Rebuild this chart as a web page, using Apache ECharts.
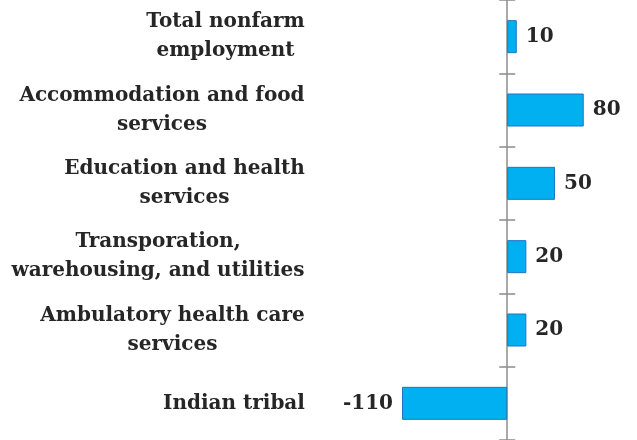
<!DOCTYPE html>
<html><head><meta charset="utf-8">
<script src="https://cdn.jsdelivr.net/npm/echarts@6/dist/echarts.min.js"></script>
<style>html,body{margin:0;padding:0;background:#fff}#c{width:637px;height:440px}</style>
</head><body><div id="c"></div>
<script>
const categories = [
  "Total nonfarm\nemployment",
  "Accommodation and food\nservices",
  "Education and health\nservices",
  "Transporation,\nwarehousing, and utilities",
  "Ambulatory health care\nservices",
  "Indian tribal"
];
const values = [10, 80, 50, 20, 20, -110];

const FONT_FAMILY = '"DejaVu Serif", serif';
const FONT_SIZE = 20;
const TEXT_COLOR = '#262626';

// measure each label block so its lines can be centred inside a right-aligned block
const mctx = document.createElement('canvas').getContext('2d');
mctx.font = 'bold ' + FONT_SIZE + 'px ' + FONT_FAMILY;
const rich = {};
categories.forEach((c, i) => {
  const w = Math.max(...c.split('\n').map(s => mctx.measureText(s).width));
  rich['c' + i] = {width: Math.ceil(w), align: 'center', fontFamily: FONT_FAMILY,
    fontWeight: 'bold', fontSize: FONT_SIZE, lineHeight: 29, color: TEXT_COLOR};
});

const axisColor = '#8c8c8c';
const chart = echarts.init(document.getElementById('c'), null, {renderer: 'canvas'});
const baseOption = {
  animation: false,
  grid: {left: 402, right: 15, top: 0, bottom: 0, containLabel: false, outerBoundsMode: 'none'},
  xAxis: {type: 'value', min: -110, max: 120, show: false},
  yAxis: [{
    type: 'category', data: categories, inverse: true,
    axisLine: {onZero: true, lineStyle: {color: axisColor, width: 1.5}},
    axisTick: {show: true, length: 8, lineStyle: {color: axisColor, width: 1.5}},
    axisLabel: {
      margin: 97, align: 'right', rich: rich,
      formatter: (v, i) => v.split('\n').map(s => '{c' + i + '|' + s + '}').join('\n')
    },
    splitLine: {show: false}
  }, {
    type: 'category', data: categories, inverse: true, position: 'left', offset: 0,
    axisLine: {onZero: false, show: false},
    axisTick: {show: true, inside: true, length: 8, lineStyle: {color: axisColor, width: 1.5}},
    axisLabel: {show: false},
    splitLine: {show: false}
  }],
  series: [{
    type: 'bar', yAxisIndex: 0, barWidth: '45%',
    data: values.map(v => v < 0 ? {value: v, label: {position: 'left'}} : v),
    itemStyle: {color: '#00B0F0', borderColor: '#1F74C4', borderWidth: 1},
    label: {
      show: true, position: 'right', distance: 9,
      color: TEXT_COLOR, fontFamily: FONT_FAMILY, fontWeight: 'bold', fontSize: FONT_SIZE
    }
  }]
};
chart.setOption(baseOption);
// put the inner-tick axis on the zero line
const zeroX = chart.convertToPixel({xAxisIndex: 0}, 0);
chart.setOption({yAxis: [{}, {offset: -(zeroX - 402)}]});
</script>
</body></html>
